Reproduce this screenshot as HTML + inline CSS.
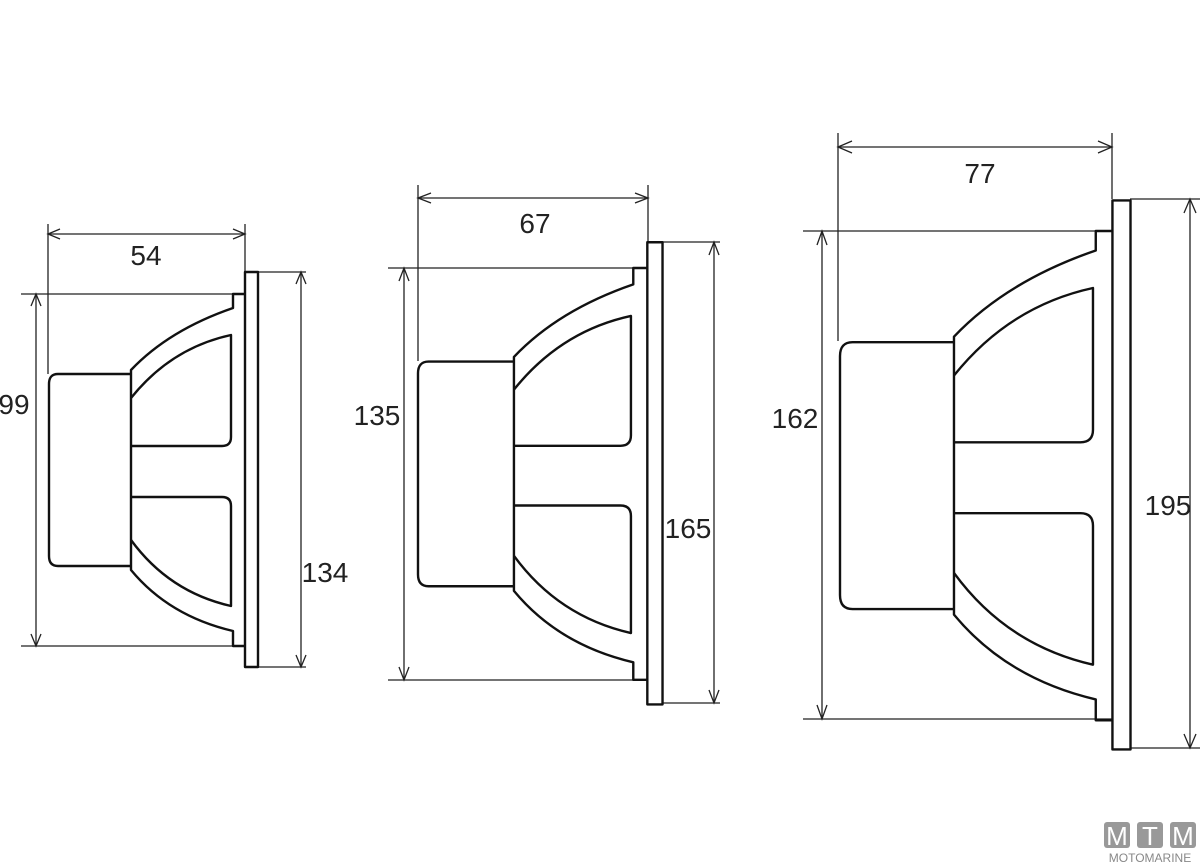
<!DOCTYPE html>
<html><head><meta charset="utf-8"><style>
html,body{margin:0;padding:0;background:#fff;}
svg{display:block;}
text{font-family:"Liberation Sans Narrow","Liberation Sans",sans-serif;font-size:28px;fill:#222;}
</style></head><body>
<svg width="1200" height="864" viewBox="0 0 1200 864" xmlns="http://www.w3.org/2000/svg">
<defs>
<g id="spk" fill="none" stroke="#111" stroke-width="2.4" stroke-linejoin="round">
  <rect x="196" y="-22" width="13" height="395" vector-effect="non-scaling-stroke"/>
  <path d="M196,0 L184,0 L184,14 Q120,36 82,76 L82,276 Q120,322 184,337 L184,352 L196,352" vector-effect="non-scaling-stroke"/>
  <path d="M82,80 L9,80 Q0,80 0,90 L0,262 Q0,272 9,272 L82,272" vector-effect="non-scaling-stroke"/>
  <path d="M82,104 Q122,54 182,41 L182,143 Q182,152 173,152 L82,152" vector-effect="non-scaling-stroke"/>
  <path d="M82,203 L173,203 Q182,203 182,212 L182,312 Q120,298 82,246" vector-effect="non-scaling-stroke"/>
</g>
</defs>
<g stroke="#222" stroke-width="1.3" fill="none">
  <line x1="48" y1="224" x2="48" y2="374"/><line x1="245" y1="224" x2="245" y2="272"/>
  <line x1="48" y1="234" x2="245" y2="234"/>
  <path d="M60,229 L48,234 L60,239 M233,229 L245,234 L233,239"/>
  <line x1="21" y1="294" x2="233" y2="294"/><line x1="21" y1="646" x2="245" y2="646"/>
  <line x1="36" y1="294" x2="36" y2="646"/>
  <path d="M31,306 L36,294 L41,306 M31,634 L36,646 L41,634"/>
  <line x1="258" y1="272" x2="306" y2="272"/><line x1="258" y1="667" x2="306" y2="667"/>
  <line x1="301" y1="272" x2="301" y2="667"/>
  <path d="M296,284 L301,272 L306,284 M296,655 L301,667 L306,655"/>
  <line x1="418" y1="185" x2="418" y2="361"/><line x1="648" y1="185" x2="648" y2="242"/>
  <line x1="418" y1="198" x2="648" y2="198"/>
  <path d="M431,193 L418,198 L431,203 M635,193 L648,198 L635,203"/>
  <line x1="388" y1="268" x2="634" y2="268"/><line x1="388" y1="680" x2="648" y2="680"/>
  <line x1="404" y1="268" x2="404" y2="680"/>
  <path d="M399,281 L404,268 L409,281 M399,667 L404,680 L409,667"/>
  <line x1="662" y1="242" x2="720" y2="242"/><line x1="662" y1="703" x2="720" y2="703"/>
  <line x1="714" y1="242" x2="714" y2="703"/>
  <path d="M709,255 L714,242 L719,255 M709,690 L714,703 L719,690"/>
  <line x1="838" y1="133" x2="838" y2="341"/><line x1="1112" y1="133" x2="1112" y2="199"/>
  <line x1="838" y1="147" x2="1112" y2="147"/>
  <path d="M852,141 L838,147 L852,153 M1098,141 L1112,147 L1098,153"/>
  <line x1="803" y1="231" x2="1095" y2="231"/><line x1="803" y1="719" x2="1112" y2="719"/>
  <line x1="822" y1="231" x2="822" y2="719"/>
  <path d="M817,245 L822,231 L827,245 M817,705 L822,719 L827,705"/>
  <line x1="1130" y1="199" x2="1200" y2="199"/><line x1="1130" y1="748" x2="1200" y2="748"/>
  <line x1="1190" y1="199" x2="1190" y2="748"/>
  <path d="M1184,213 L1190,199 L1196,213 M1184,734 L1190,748 L1196,734"/>
</g>
<use href="#spk" transform="translate(49,294)"/>
<use href="#spk" transform="translate(418,268) scale(1.17)"/>
<use href="#spk" transform="translate(840,231) scale(1.39)"/>
<text x="146" y="265" text-anchor="middle">54</text>
<text x="14" y="414" text-anchor="middle">99</text>
<text x="325" y="582" text-anchor="middle">134</text>
<text x="535" y="233" text-anchor="middle">67</text>
<text x="377" y="425" text-anchor="middle">135</text>
<text x="688" y="538" text-anchor="middle">165</text>
<text x="980" y="183" text-anchor="middle">77</text>
<text x="795" y="428" text-anchor="middle">162</text>
<text x="1168" y="515" text-anchor="middle">195</text>
<g fill="#999">
  <rect x="1104" y="822" width="26" height="26" rx="3"/>
  <rect x="1137" y="822" width="26" height="26" rx="3"/>
  <rect x="1170" y="822" width="26" height="26" rx="3"/>
</g>
<text x="1117" y="845" text-anchor="middle" style="font-size:26px;fill:#fff">M</text>
<text x="1150" y="845" text-anchor="middle" style="font-size:26px;fill:#fff">T</text>
<text x="1183" y="845" text-anchor="middle" style="font-size:26px;fill:#fff">M</text>
<text x="1150" y="862" text-anchor="middle" style="font-size:12px;fill:#888">MOTOMARINE</text>
</svg>
</body></html>
